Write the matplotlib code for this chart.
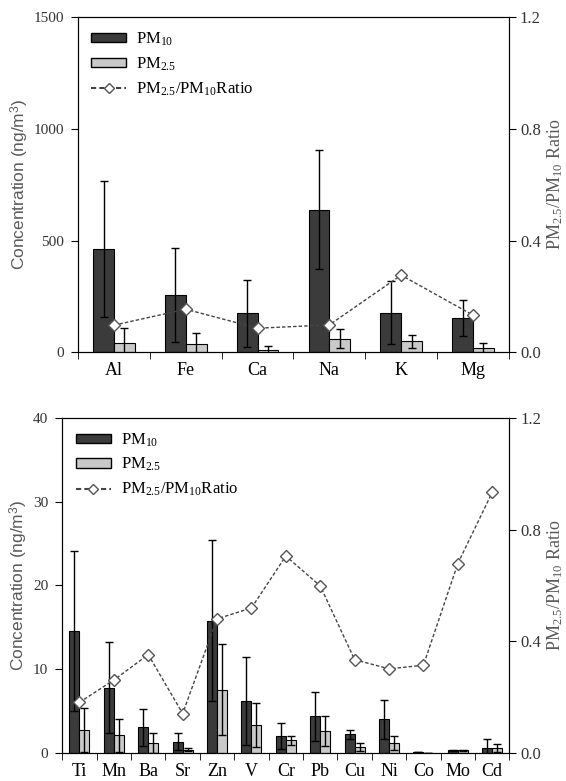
import numpy as np
import matplotlib
matplotlib.use("Agg")
import matplotlib.pyplot as plt
from matplotlib.patches import Patch
from matplotlib.lines import Line2D

plt.rcParams['font.family'] = ['Liberation Serif', 'DejaVu Serif']
plt.rcParams['mathtext.fontset'] = 'custom'
plt.rcParams['mathtext.rm'] = 'Liberation Serif'
plt.rcParams['mathtext.it'] = 'Liberation Serif:italic'
plt.rcParams['mathtext.sf'] = 'Liberation Sans'
plt.rcParams['font.size'] = 11

# major elements (ng/m3)
major = ['Al', 'Fe', 'Ca', 'Na', 'K', 'Mg']
major_pm10 = [462, 257, 175, 639, 177, 153]
major_pm10_sd = [305, 210, 150, 267, 140, 82]
major_pm25 = [43, 39, 12, 61, 49, 18]
major_pm25_sd = [66, 45, 16, 43, 28, 22]
major_ratio = [0.097, 0.154, 0.086, 0.098, 0.276, 0.133]

# trace elements (ng/m3)
trace = ['Ti', 'Mn', 'Ba', 'Sr', 'Zn', 'V', 'Cr', 'Pb', 'Cu', 'Ni', 'Co', 'Mo', 'Cd']
trace_pm10 = [14.55, 7.8, 3.06, 1.35, 15.8, 6.2, 2.07, 4.37, 2.2, 4.0, 0.08, 0.3, 0.6]
trace_pm10_sd = [9.5, 5.4, 2.2, 1.0, 9.6, 5.2, 1.55, 2.9, 0.55, 2.3, 0.02, 0.05, 1.0]
trace_pm25 = [2.7, 2.1, 1.2, 0.4, 7.55, 3.3, 1.5, 2.6, 0.7, 1.2, 0.03, 0.3, 0.6]
trace_pm25_sd = [2.6, 2.0, 1.2, 0.15, 5.4, 2.6, 0.55, 1.8, 0.5, 0.85, 0.01, 0.05, 0.5]
trace_ratio = [0.181, 0.261, 0.352, 0.141, 0.480, 0.519, 0.705, 0.598, 0.334, 0.301, 0.314, 0.678, 0.933]

DARK = '#3b3b3b'
LIGHT = '#c9c9c9'
LABEL_GREY = '#5a5a5a'
TICK_GREY = '#333333'


def panel(ax, names, pm10, pm10_sd, pm25, pm25_sd, ratio, ymax, yticks):
    x = np.arange(len(names))
    w = 0.29
    ekw = dict(ecolor='black', elinewidth=1.0, capsize=3, capthick=1.0)
    ax.bar(x - w / 2, pm10, w, color=DARK, edgecolor='black', linewidth=0.8,
           yerr=pm10_sd, error_kw=ekw)
    ax.bar(x + w / 2, pm25, w, color=LIGHT, edgecolor='black', linewidth=0.8,
           yerr=pm25_sd, error_kw=ekw)
    ax.set_xlim(-0.5, len(names) - 0.5)
    ax.set_ylim(0, ymax)
    ax.set_yticks(yticks)
    ax.set_xticks(x)
    ax.set_xticklabels(names, fontsize=13)
    ax.set_xticks(np.arange(len(names) + 1) - 0.5, minor=True)
    ax.tick_params(axis='x', which='major', length=0, pad=7)
    ax.tick_params(axis='x', which='minor', length=5, direction='out')
    ax.tick_params(axis='y', direction='out', length=5, pad=5, labelsize=11,
                   labelcolor=TICK_GREY)
    ax.set_ylabel('Concentration (ng/m$^{\\mathsf{3}}$)', color=LABEL_GREY,
                  family='Liberation Sans', fontsize=12.5, labelpad=2)

    ax2 = ax.twinx()
    ax2.plot(x, ratio, color='#444444', linestyle=(0, (2.5, 1.5)), linewidth=1.0,
             marker='D', markersize=6, markerfacecolor='white',
             markeredgecolor='#555555', markeredgewidth=1.0)
    ax2.set_ylim(0, 1.2)
    ax2.set_yticks([0.0, 0.4, 0.8, 1.2])
    ax2.set_yticklabels(['0.0', '0.4', '0.8', '1.2'])
    ax2.tick_params(axis='y', direction='out', length=5, pad=3, labelsize=12,
                    labelcolor=TICK_GREY)
    ax2.set_ylabel('PM$_{2.5}$/PM$_{10}$ Ratio', color=LABEL_GREY, fontsize=13,
                   labelpad=3)

    handles = [Patch(facecolor=DARK, edgecolor='black', label='PM$_{10}$'),
               Patch(facecolor=LIGHT, edgecolor='black', label='PM$_{2.5}$'),
               Line2D([0], [0], color='#444444', linestyle=(0, (2.5, 1.5)),
                      marker='D', markersize=5, markerfacecolor='white',
                      markeredgecolor='#555555',
                      label='PM$_{2.5}$/PM$_{10}$Ratio')]
    ax.legend(handles=handles, loc='upper left', frameon=False,
              handlelength=2.1, handleheight=0.5, labelspacing=0.45,
              handletextpad=0.6, borderaxespad=0.4, fontsize=12)
    return ax2


fig = plt.figure(figsize=(5.66, 7.81), dpi=100)
ax_top = fig.add_axes([0.138, 0.549, 0.761, 0.429])
ax_bot = fig.add_axes([0.110, 0.036, 0.790, 0.429])

panel(ax_top, major, major_pm10, major_pm10_sd, major_pm25, major_pm25_sd,
      major_ratio, 1500, [0, 500, 1000, 1500])
panel(ax_bot, trace, trace_pm10, trace_pm10_sd, trace_pm25, trace_pm25_sd,
      trace_ratio, 40, [0, 10, 20, 30, 40])

fig.savefig('out.png', dpi=100)
